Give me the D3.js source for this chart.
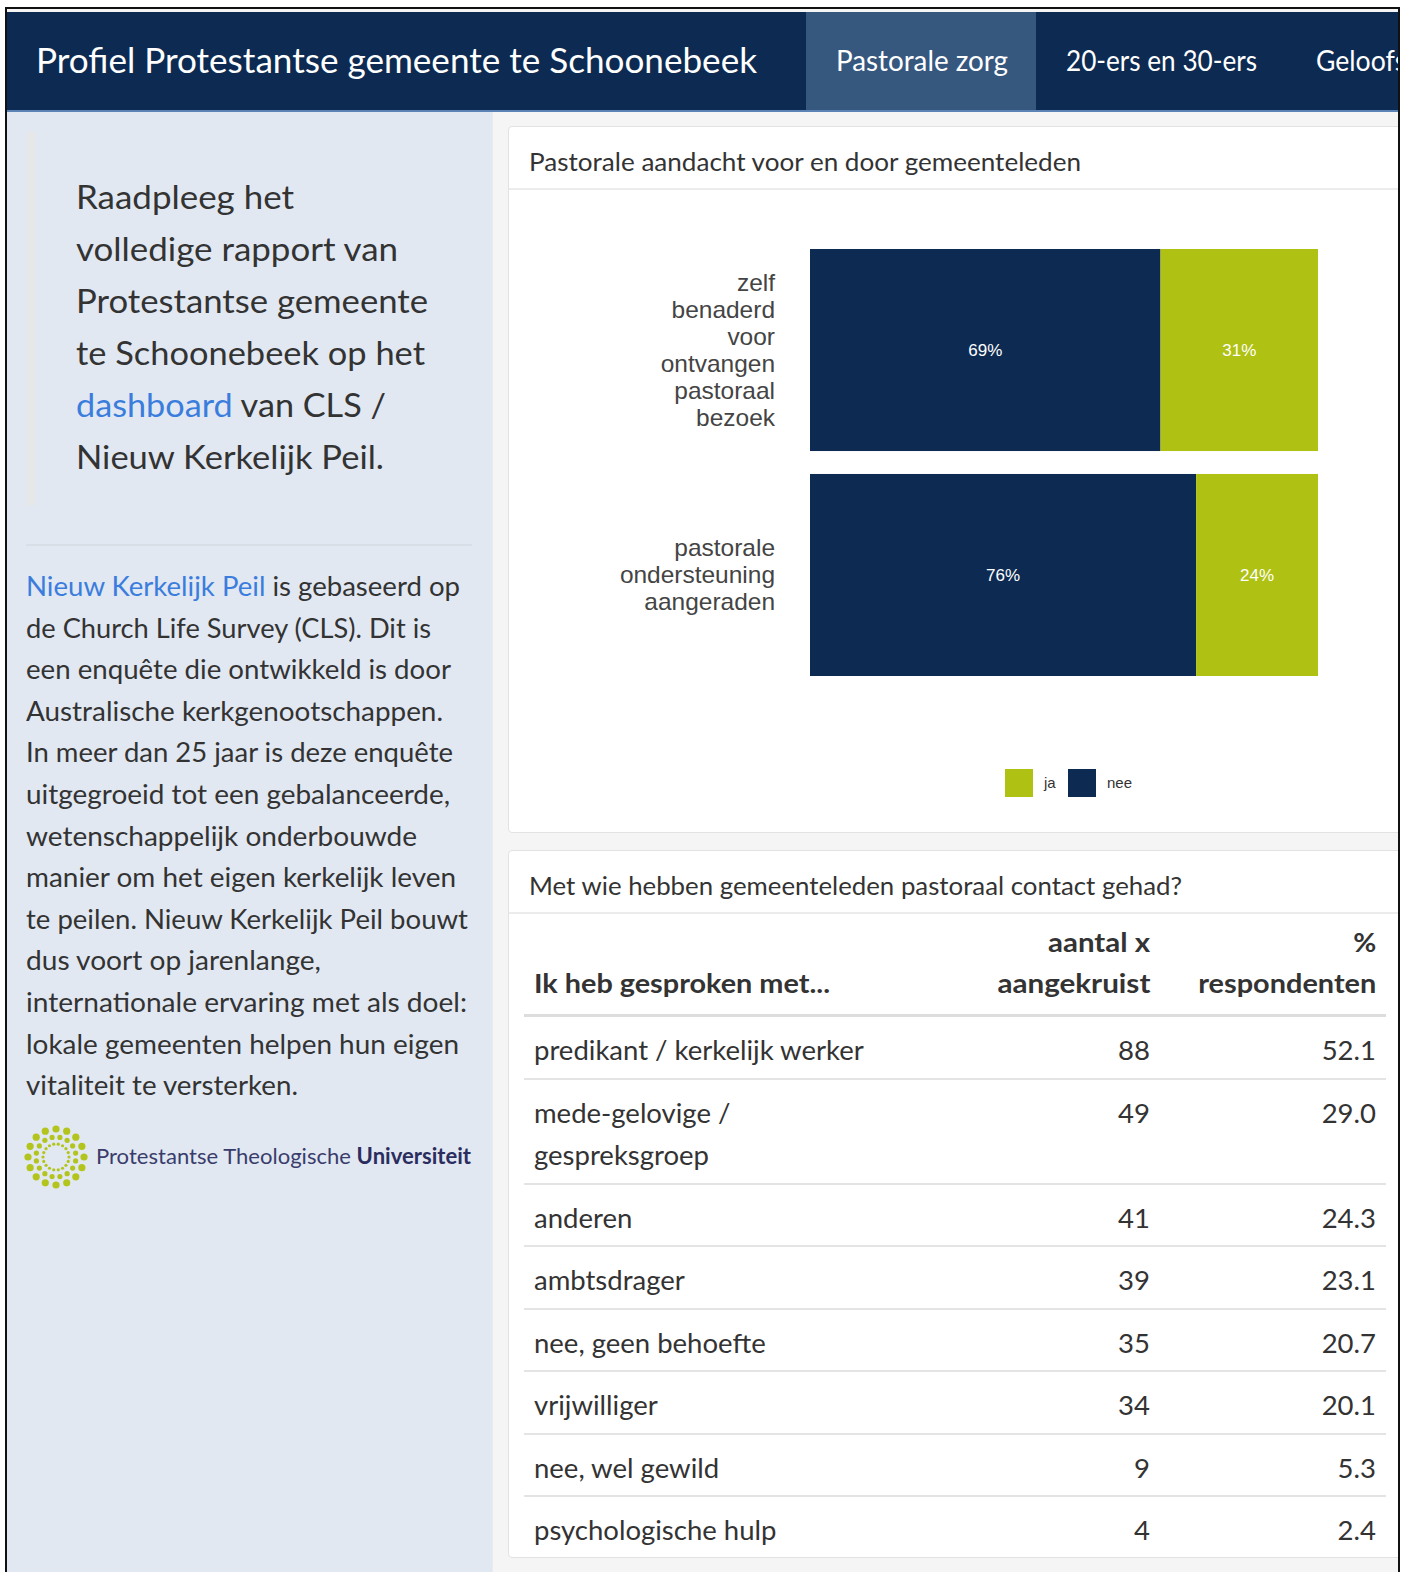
<!DOCTYPE html>
<html>
<head>
<meta charset="utf-8">
<script src="https://cdn.jsdelivr.net/npm/d3@7"></script>
<style>
  html, body { margin:0; padding:0; background:#fff; width:1417px; height:1572px; overflow:hidden; }
  body { font-family: Lato, "Source Sans Pro", sans-serif; color:#333; }
  #frame { position:absolute; left:5px; top:7px; width:1391px; height:1580px; border:2px solid #111; border-bottom:none; overflow:hidden; background:#f5f5f5; }
  .abs { position:absolute; white-space:nowrap; }
  #header { position:absolute; left:0; top:3px; width:1393px; height:98px; background:#0d2b52; border-bottom:2px solid #5b83b5; }
  #sidebar { position:absolute; left:0; top:103px; width:485px; height:1500px; background:#e1e8f2; border-right:1px solid #e8ebef; }
  .card { position:absolute; background:#fff; border:1px solid #e2e2e2; border-radius:4px; }
  .card-title { position:absolute; left:0; top:0; right:0; height:61px; border-bottom:2px solid #ececec; }
  a { color:#3b7ddd; text-decoration:none; }
  table { border-collapse:collapse; table-layout:fixed; }
  th, td { box-sizing:border-box; }
</style>
</head>
<body>
<div id="frame">
  <div id="header">
    <div class="abs fit" data-w="721" id="brand" style="left:29px; top:26px; font-size:35px; color:#fff;">Profiel Protestantse gemeente te Schoonebeek</div>
    <div class="abs" style="left:799px; top:0; width:230px; height:98px; background:#36587f;"></div>
    <div class="abs nav fit" data-w="172" style="left:829px; top:31px; font-size:28px; color:#fff;">Pastorale zorg</div>
    <div class="abs nav fit" data-w="191" style="left:1059px; top:31px; font-size:28px; color:#fff;">20-ers en 30-ers</div>
    <div class="abs nav" style="left:1309px; top:31px; font-size:28px; color:#fff; transform:scaleX(0.95); transform-origin:left center;">Geloofsleven</div>
  </div>
  <div id="sidebar">
    <div class="abs" style="left:19px; top:20px; width:10px; height:373px; background:#e6e7e9;"></div>
    <div class="abs" id="quote" style="left:69px; top:58px; font-size:33px; line-height:52px; color:#333;">
      <div class="fit" data-w="218">Raadpleeg het</div>
      <div class="fit" data-w="322">volledige rapport van</div>
      <div class="fit" data-w="352">Protestantse gemeente</div>
      <div class="fit" data-w="349">te Schoonebeek op het</div>
      <div class="fit" data-w="310"><a href="#">dashboard</a> van CLS /</div>
      <div class="fit" data-w="308">Nieuw Kerkelijk Peil.</div>
    </div>
    <div class="abs" style="left:19px; top:432px; width:446px; height:2px; background:#d9dfe7;"></div>
    <div class="abs" id="para" style="left:19px; top:454px; font-size:26px; line-height:41.6px; color:#333;">
      <div class="fit" data-w="434"><a href="#">Nieuw Kerkelijk Peil</a> is gebaseerd op</div>
      <div class="fit" data-w="405">de Church Life Survey (CLS). Dit is</div>
      <div class="fit" data-w="425">een enquête die ontwikkeld is door</div>
      <div class="fit" data-w="417">Australische kerkgenootschappen.</div>
      <div class="fit" data-w="427">In meer dan 25 jaar is deze enquête</div>
      <div class="fit" data-w="424">uitgegroeid tot een gebalanceerde,</div>
      <div class="fit" data-w="391">wetenschappelijk onderbouwde</div>
      <div class="fit" data-w="430">manier om het eigen kerkelijk leven</div>
      <div class="fit" data-w="442">te peilen. Nieuw Kerkelijk Peil bouwt</div>
      <div class="fit" data-w="295">dus voort op jarenlange,</div>
      <div class="fit" data-w="441">internationale ervaring met als doel:</div>
      <div class="fit" data-w="433">lokale gemeenten helpen hun eigen</div>
      <div class="fit" data-w="272">vitaliteit te versterken.</div>
    </div>
    <svg id="logo" class="abs" style="left:14px; top:1010px;" width="70" height="70"></svg>
    <div class="abs fit" data-w="375" style="left:89px; top:1030px; font-size:22px; color:#3a3d6b;">Protestantse Theologische <b style="color:#2b2d5e;">Universiteit</b></div>
  </div>

  <div class="card" id="card1" style="left:501px; top:117px; width:900px; height:705px;">
    <div class="card-title"><div class="abs fit" data-w="552" style="left:20px; top:19px; font-size:25px; color:#333;">Pastorale aandacht voor en door gemeenteleden</div></div>
    <svg id="chart" class="abs" style="left:0; top:63px;" width="900" height="640"></svg>
  </div>

  <div class="card" id="card2" style="left:501px; top:841px; width:900px; height:706px;">
    <div class="card-title"><div class="abs fit" data-w="653" style="left:20px; top:19px; font-size:25px; color:#333;">Met wie hebben gemeenteleden pastoraal contact gehad?</div></div>
    <div class="abs" id="tablewrap" style="left:15px; top:71px;"></div>
  </div>
</div>

<script>
// ---------- data ----------
const barCategories = ["zelf benaderd voor ontvangen pastoraal bezoek", "pastorale ondersteuning aangeraden"];
const barLabelLines = [["zelf","benaderd","voor","ontvangen","pastoraal","bezoek"], ["pastorale","ondersteuning","aangeraden"]];
const neeValues = [69, 76];
const jaValues = [31, 24];
const seriesNames = ["ja", "nee"];
const seriesColors = ["#afc112", "#0d2b52"];

const tableHeaders = [["", "Ik heb gesproken met..."], ["aantal x", "aangekruist"], ["%", "respondenten"]];
const contactCategories = ["predikant / kerkelijk werker", "mede-gelovige / gespreksgroep", "anderen", "ambtsdrager", "nee, geen behoefte", "vrijwilliger", "nee, wel gewild", "psychologische hulp"];
const contactCounts = [88, 49, 41, 39, 35, 34, 9, 4];
const contactPercents = [52.1, 29.0, 24.3, 23.1, 20.7, 20.1, 5.3, 2.4];

// ---------- chart ----------
const svg = d3.select("#chart");
const x = d3.scaleLinear().domain([0, 100]).range([301, 809]);
const y = d3.scaleBand().domain(barCategories).range([59, 486]).paddingInner(0.102).paddingOuter(0);
const color = d3.scaleOrdinal().domain(seriesNames).range(seriesColors);

const rows = barCategories.map((c, i) => ({cat: c, lines: barLabelLines[i], nee: neeValues[i], ja: jaValues[i]}));
const stack = d3.stack().keys(["nee", "ja"])(rows);

const g = svg.append("g");
stack.forEach(layer => {
  g.selectAll(null).data(layer).join("rect")
    .attr("x", d => x(d[0]))
    .attr("y", d => y(d.data.cat))
    .attr("width", d => x(d[1]) - x(d[0]))
    .attr("height", y.bandwidth())
    .attr("fill", color(layer.key));
  g.selectAll(null).data(layer).join("text")
    .attr("x", d => (x(d[0]) + x(d[1])) / 2)
    .attr("y", d => y(d.data.cat) + y.bandwidth() / 2)
    .attr("dy", "0.35em")
    .attr("text-anchor", "middle")
    .attr("fill", "#fff")
    .style("font-family", "'Liberation Sans', Arial, sans-serif")
    .style("font-size", "17px")
    .text(d => (d[1] - d[0]) + "%");
});

// category labels
const lineH = 27;
rows.forEach(r => {
  const cy = y(r.cat) + y.bandwidth() / 2;
  const n = r.lines.length;
  const t = svg.append("text")
    .attr("text-anchor", "end")
    .attr("fill", "#444")
    .style("font-family", "'Liberation Sans', Arial, sans-serif")
    .style("font-size", "24px")
    .attr("transform", `translate(${x(0) - 35},0) scale(1.02,1)`);
  r.lines.forEach((ln, k) => {
    t.append("tspan").attr("x", 0).attr("y", cy + (k - (n - 1) / 2) * lineH).attr("dy", "0.35em").text(ln);
  });
});

// legend
const legend = svg.append("g").attr("transform", "translate(496,579)");
seriesNames.forEach((s, i) => {
  const lg = legend.append("g").attr("transform", `translate(${i * 63},0)`);
  lg.append("rect").attr("width", 28).attr("height", 28).attr("fill", color(s));
  lg.append("text").attr("x", 39).attr("y", 14).attr("dy", "0.35em")
    .style("font-family", "'Liberation Sans', Arial, sans-serif").style("font-size", "15px").attr("fill", "#333").text(s);
});

// ---------- table ----------
const table = d3.select("#tablewrap").append("table").style("width", "862px").style("font-size", "27.5px").style("line-height", "42.5px").style("color", "#333");
const colW = [420, 216, 226];
const thead = table.append("thead").append("tr");
tableHeaders.forEach((h, i) => {
  thead.append("th")
    .style("width", colW[i] + "px")
    .style("text-align", i === 0 ? "left" : "right")
    .style("vertical-align", "bottom")
    .style("line-height", "41px")
    .style("font-size", "26px")
    .style("padding", "0 10px 10px 10px")
    .style("border-bottom", "3px solid #dddddd")
    .style("font-weight", "700")
    .html(h[0] ? `<span class="fit" data-w="${i===1?102:23}" style="display:inline-block">${h[0]}</span><br><span class="fit" data-w="${i===1?153:178}" style="display:inline-block">${h[1]}</span>` : `<span class="fit" data-w="296" style="display:inline-block">${h[1]}</span>`);
});
const tbody = table.append("tbody");
contactCategories.forEach((c, i) => {
  const tr = tbody.append("tr");
  const cells = [c, String(contactCounts[i]), contactPercents[i].toFixed(1)];
  cells.forEach((v, j) => {
    tr.append("td")
      .style("text-align", j === 0 ? "left" : "right")
      .style("vertical-align", "top")
      .style("padding", "12px 10px 6px 10px")
      .style("border-top", i === 0 ? "none" : "2px solid #e4e4e4")
      .html(j === 0 && c.indexOf(" / ") > 0 && c.length > 28 ? c.replace(" / ", " /<br>") : v);
  });
});

// ---------- logo ----------
const logo = d3.select("#logo").append("g").attr("transform", "translate(35,35)");
[{r: 28, n: 16, s: 3.6, off: 0}, {r: 20, n: 16, s: 2.6, off: 0.5}, {r: 13, n: 18, s: 1.6, off: 0}].forEach(ring => {
  logo.selectAll(null).data(d3.range(ring.n)).join("circle")
    .attr("cx", k => ring.r * Math.cos((k + ring.off) / ring.n * 2 * Math.PI))
    .attr("cy", k => ring.r * Math.sin((k + ring.off) / ring.n * 2 * Math.PI))
    .attr("r", ring.s).attr("fill", "#b3c51c");
});

// ---------- fit text widths to reference ----------
function fitAll() {
  document.querySelectorAll(".fit").forEach(el => {
    const w = el.getBoundingClientRect().width;
    const target = +el.dataset.w;
    if (w > 0 && target) {
      el.style.transformOrigin = el.closest("th") && el.closest("th").style.textAlign === "right" ? "right center" : "left center";
      el.style.transform = `scaleX(${target / w})`;
    }
  });
}
document.querySelectorAll("#quote .fit, #para .fit").forEach(el => { el.style.display = "table"; });
fitAll();
</script>
</body>
</html>
